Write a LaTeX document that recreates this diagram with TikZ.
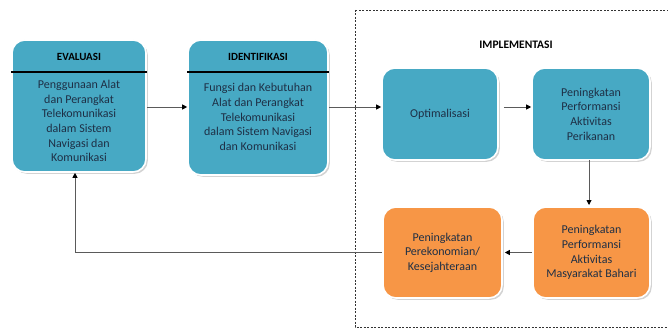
\documentclass[tikz,border=0pt]{standalone}
\usepackage{fontspec}
\setmainfont{Carlito}
\usetikzlibrary{arrows.meta,shadows,calc}
\definecolor{teal}{HTML}{47A9C4}
\definecolor{orng}{HTML}{F79646}
\definecolor{txt}{HTML}{1E2F45}
\definecolor{lnk}{HTML}{5A5A5A}
\tikzset{
  body/.style={align=center, text=txt, font=\fontsize{12}{14.6}\selectfont},
  box/.style={body, rounded corners=13pt, draw=white, line width=1.6pt,
    drop shadow={opacity=0.35, shadow xshift=1.8pt, shadow yshift=-1.8pt}},
  tbox/.style={box, fill=teal},
  obox/.style={box, fill=orng},
  hdr/.style={font=\fontsize{11}{13}\selectfont\bfseries, text=black},
  link/.style={draw=lnk, line width=0.9pt, -{Triangle[length=5pt,width=5pt]}, arrows={[color=black]}},
  frame/.style={draw=black!80, dashed, dash pattern=on 2pt off 1.5pt, line width=0.7pt}
}
\begin{document}
\begin{tikzpicture}[x=1pt,y=-1pt]
\useasboundingbox (0,0) rectangle (668,334);
\begin{scope}
\clip (0,0) rectangle (668,334);
\draw[frame] (355,10) rectangle (690,327);
\end{scope}
\node[hdr, font=\fontsize{11.5}{13}\selectfont\bfseries] (impl) at (516,45) {IMPLEMENTASI};
% boxes
\node[tbox, minimum width=134pt, minimum height=132pt] (eval) at (79,106) {};
\node[tbox, minimum width=140pt, minimum height=135pt] (ident) at (258,107.5) {};
\node[tbox, minimum width=116pt, minimum height=92pt] (opt) at (440,114) {Optimalisasi};
\node[tbox, minimum width=118pt, minimum height=92pt] (perik) at (591,114) {Peningkatan\\Performansi\\Aktivitas\\Perikanan};
\node[obox, minimum width=117pt, minimum height=91pt] (masy) at (591.5,252.5) {Peningkatan\\Performansi\\Aktivitas\\Masyarakat Bahari};
\node[obox, minimum width=119pt, minimum height=91pt] (perek) at (442.5,252.5) {Peningkatan\\Perekonomian/\\Kesejahteraan};
% headers
\node[hdr] (evalh) at (79,57) {EVALUASI};
\node[hdr] (identh) at (258,57) {IDENTIFIKASI};
\draw[line width=1.6pt] (eval.west |- 0,72) -- (eval.east |- 0,72);
\draw[line width=1.6pt] (ident.west |- 0,72) -- (ident.east |- 0,72);
\node[body] (evalt) at (79,121)
  {Penggunaan Alat\\dan Perangkat\\Telekomunikasi\\dalam Sistem\\Navigasi dan\\Komunikasi};
\node[body] (identt) at (258,117)
  {Fungsi dan Kebutuhan\\Alat dan Perangkat\\Telekomunikasi\\dalam Sistem Navigasi\\dan Komunikasi};
% connectors
\draw[link] (eval.east |- 0,107) -- (ident.west |- 0,107);
\draw[link] (ident.east |- 0,107) -- (opt.west |- 0,107);
\draw[link] ($(opt.east |- 0,107)+(5,0)$) -- (perik.west |- 0,107);
\draw[link] (589,160) -- (589,205);
\draw[link] (masy.west) -- ($(perek.east)+(2,0)$);
\coordinate (bend) at (75,252.5);
\draw[link] (perek.west) -- (bend) -- (eval.south -| bend);
\end{tikzpicture}
\end{document}
